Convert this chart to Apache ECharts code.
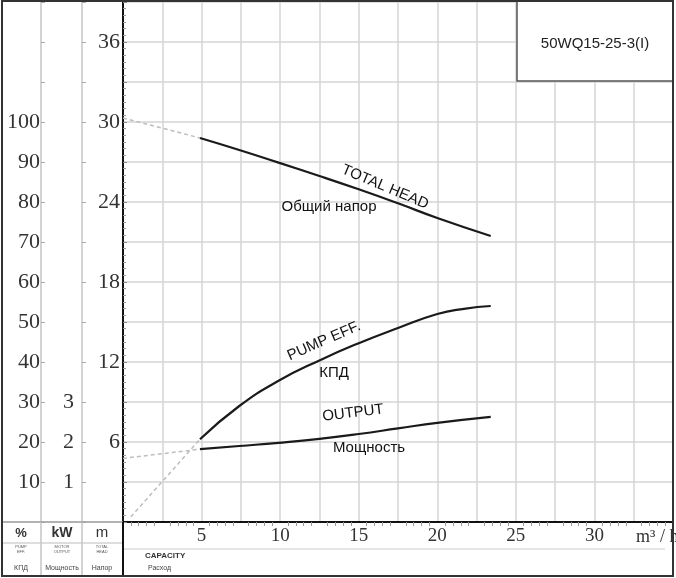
<!DOCTYPE html>
<html>
<head>
<meta charset="utf-8">
<script src="https://cdn.jsdelivr.net/npm/echarts@6/dist/echarts.min.js"></script>
<style>
  html, body { margin: 0; padding: 0; background: #fff; }
  #chart { width: 676px; height: 578px; }
</style>
</head>
<body>
<div id="chart"></div>
<script>
(function () {
    'use strict';

    //////////Datos
    var modelName = '50WQ15-25-3(I)';
    var flowTicks = [5, 10, 15, 20, 25, 30];
    var headTicks = [6, 12, 18, 24, 30, 36];
    var effTicks = [10, 20, 30, 40, 50, 60, 70, 80, 90, 100];
    var kwTicks = [1, 2, 3];

    // curva de altura (m)
    var headFlow = [4.9, 7.4, 9.9, 12.5, 15, 17.5, 20, 23.4];
    var headVal = [28.8, 27.9, 26.95, 25.95, 24.95, 23.9, 22.8, 21.45];
    var headDashFlow = [0, 4.9];
    var headDashVal = [30.3, 28.8];

    // rendimiento bomba (%)
    var effFlow = [4.9, 7.4, 9.9, 12.5, 15, 17.5, 20, 21.7, 23.4];
    var effVal = [20.7, 29.0, 35.3, 40.4, 44.7, 48.5, 52.0, 53.3, 54.0];
    var effDashFlow = [0.5, 4.9];
    var effDashVal = [1.3, 20.7];

    // potencia (kW)
    var powFlow = [4.9, 7.4, 9.9, 12.5, 15, 17.5, 20, 23.4];
    var powVal = [1.82, 1.9, 1.98, 2.08, 2.2, 2.34, 2.48, 2.63];
    var powDashFlow = [0, 4.9];
    var powDashVal = [1.59, 1.82];

    function pairs(xs, ys) {
        return xs.map(function (x, i) { return [x, ys[i]]; });
    }

    var serif = 'Liberation Serif';
    var sans = 'Liberation Sans';
    var gridColor = '#d4d4d4';
    var sideColor = '#c4c4c4';
    var headMax = 39.15;

    var chart = echarts.init(document.getElementById('chart'));

    function curve(data, yIdx, dashed) {
        return {
            type: 'line',
            yAxisIndex: yIdx,
            data: data,
            smooth: 0.5,
            symbol: 'none',
            silent: true,
            lineStyle: dashed
                ? { color: '#bdbdbd', width: 1.5, type: [4, 3] }
                : { color: '#1a1a1a', width: 2.2 }
        };
    }

    function sideAxis(max, interval, offset, ticks, margin) {
        return {
            type: 'value',
            position: 'left',
            offset: offset,
            min: 0,
            max: max,
            interval: interval,
            axisLine: { show: true, lineStyle: { color: sideColor, width: 1.5 } },
            axisTick: { show: true, inside: true, length: 4, lineStyle: { color: '#aaa' } },
            splitLine: { show: false },
            axisLabel: {
                margin: margin,
                fontFamily: serif,
                fontSize: 22,
                color: '#333',
                formatter: function (v) {
                    return ticks.indexOf(Math.round(v * 100) / 100) >= 0 ? String(v) : '';
                }
            }
        };
    }

    var option = {
        animation: false,
        backgroundColor: '#fff',
        grid: { left: 123, right: 3, top: 0, bottom: 56 },
        xAxis: {
            type: 'value',
            min: 0,
            max: 35,
            interval: 2.5,
            axisLine: { lineStyle: { color: '#111', width: 2 } },
            axisTick: { show: false },
            minorTick: { show: true, splitNumber: 5, length: 4, lineStyle: { color: '#999' } },
            splitLine: { show: true, lineStyle: { color: gridColor, width: 1.5 } },
            axisLabel: {
                margin: 5,
                fontFamily: serif,
                fontSize: 19,
                color: '#333',
                formatter: function (v) {
                    return flowTicks.indexOf(v) >= 0 ? String(v) : '';
                }
            }
        },
        yAxis: [
            {
                type: 'value',
                min: 0,
                max: headMax,
                interval: 3,
                axisLine: { show: true, lineStyle: { color: '#111', width: 2 } },
                axisTick: { show: true, inside: true, length: 4, lineStyle: { color: '#888' } },
                minorTick: { show: true, splitNumber: 6, length: 3, lineStyle: { color: '#999' } },
                splitLine: { show: true, lineStyle: { color: gridColor, width: 1.5 } },
                axisLabel: {
                    margin: 3,
                    fontFamily: serif,
                    fontSize: 22,
                    color: '#333',
                    formatter: function (v) {
                        return headTicks.indexOf(v) >= 0 ? String(v) : '';
                    }
                }
            },
            sideAxis(headMax * 10 / 3, 10, 82, effTicks, 1),
            sideAxis(headMax / 3, 1, 41, kwTicks, 8)
        ],
        series: [
            curve(pairs(headDashFlow, headDashVal), 0, true),
            curve(pairs(headFlow, headVal), 0, false),
            curve(pairs(effDashFlow, effDashVal), 1, true),
            curve(pairs(effFlow, effVal), 1, false),
            curve(pairs(powDashFlow, powDashVal), 2, true),
            curve(pairs(powFlow, powVal), 2, false)
        ],
        graphic: [
            // recuadro del modelo
            { type: 'rect', z: 10, shape: { x: 517, y: 0, width: 156, height: 81 },
              style: { fill: '#fff', stroke: '#555', lineWidth: 1.5 } },
            { type: 'text', z: 11, x: 595, y: 44,
              style: { text: modelName, font: '15px ' + sans, fill: '#222', textAlign: 'center', textVerticalAlign: 'middle' } },

            // etiquetas de curvas
            { type: 'text', z: 11, x: 385, y: 187, rotation: -0.40,
              style: { text: 'TOTAL HEAD', font: '15px ' + sans, fill: '#111', textAlign: 'center', textVerticalAlign: 'middle' } },
            { type: 'text', z: 11, x: 329, y: 207,
              style: { text: 'Общий напор', font: '15px ' + sans, fill: '#111', textAlign: 'center', textVerticalAlign: 'middle' } },
            { type: 'text', z: 11, x: 324, y: 341, rotation: 0.41,
              style: { text: 'PUMP EFF.', font: '15px ' + sans, fill: '#111', textAlign: 'center', textVerticalAlign: 'middle' } },
            { type: 'text', z: 11, x: 334, y: 373,
              style: { text: 'КПД', font: '15px ' + sans, fill: '#111', textAlign: 'center', textVerticalAlign: 'middle' } },
            { type: 'text', z: 11, x: 353, y: 413, rotation: 0.12,
              style: { text: 'OUTPUT', font: '15px ' + sans, fill: '#111', textAlign: 'center', textVerticalAlign: 'middle' } },
            { type: 'text', z: 11, x: 369, y: 448,
              style: { text: 'Мощность', font: '15px ' + sans, fill: '#111', textAlign: 'center', textVerticalAlign: 'middle' } },

            // unidad del eje x
            { type: 'text', z: 11, x: 636, y: 537,
              style: { text: 'm³ / h', font: '18px ' + serif, fill: '#333', textAlign: 'left', textVerticalAlign: 'middle' } },

            // tabla inferior
            { type: 'line', z: 9, shape: { x1: 2, y1: 522, x2: 123, y2: 522 }, style: { stroke: '#999', lineWidth: 1.5 } },
            { type: 'line', z: 9, shape: { x1: 2, y1: 543, x2: 123, y2: 543 }, style: { stroke: '#bbb', lineWidth: 1 } },
            { type: 'line', z: 9, shape: { x1: 123, y1: 549, x2: 665, y2: 549 }, style: { stroke: '#ccc', lineWidth: 1 } },
            { type: 'line', z: 9, shape: { x1: 41, y1: 522, x2: 41, y2: 576 }, style: { stroke: sideColor, lineWidth: 1.5 } },
            { type: 'line', z: 9, shape: { x1: 82, y1: 522, x2: 82, y2: 576 }, style: { stroke: sideColor, lineWidth: 1.5 } },
            { type: 'line', z: 9, shape: { x1: 123, y1: 522, x2: 123, y2: 576 }, style: { stroke: '#111', lineWidth: 2 } },

            { type: 'text', z: 11, x: 21, y: 533, style: { text: '%', font: 'bold 13px ' + sans, fill: '#333', textAlign: 'center', textVerticalAlign: 'middle' } },
            { type: 'text', z: 11, x: 62, y: 533, style: { text: 'kW', font: 'bold 14px ' + sans, fill: '#333', textAlign: 'center', textVerticalAlign: 'middle' } },
            { type: 'text', z: 11, x: 102, y: 533, style: { text: 'm', font: '15px ' + sans, fill: '#333', textAlign: 'center', textVerticalAlign: 'middle' } },

            { type: 'text', z: 11, x: 21, y: 549, style: { text: 'PUMP\nEFF.', font: '4px ' + sans, lineHeight: 5, fill: '#555', textAlign: 'center', textVerticalAlign: 'middle' } },
            { type: 'text', z: 11, x: 62, y: 549, style: { text: 'MOTOR\nOUTPUT', font: '4px ' + sans, lineHeight: 5, fill: '#555', textAlign: 'center', textVerticalAlign: 'middle' } },
            { type: 'text', z: 11, x: 102, y: 549, style: { text: 'TOTAL\nHEAD', font: '4px ' + sans, lineHeight: 5, fill: '#555', textAlign: 'center', textVerticalAlign: 'middle' } },

            { type: 'text', z: 11, x: 21, y: 568, style: { text: 'КПД', font: '7px ' + sans, fill: '#444', textAlign: 'center', textVerticalAlign: 'middle' } },
            { type: 'text', z: 11, x: 62, y: 568, style: { text: 'Мощность', font: '7px ' + sans, fill: '#444', textAlign: 'center', textVerticalAlign: 'middle' } },
            { type: 'text', z: 11, x: 102, y: 568, style: { text: 'Напор', font: '7px ' + sans, fill: '#444', textAlign: 'center', textVerticalAlign: 'middle' } },

            { type: 'text', z: 11, x: 145, y: 556, style: { text: 'CAPACITY', font: 'bold 8px ' + sans, fill: '#333', textAlign: 'left', textVerticalAlign: 'middle' } },
            { type: 'text', z: 11, x: 148, y: 568, style: { text: 'Расход', font: '7px ' + sans, fill: '#444', textAlign: 'left', textVerticalAlign: 'middle' } },

            // marco exterior
            { type: 'rect', z: 12, shape: { x: 2, y: 1, width: 671, height: 575 },
              style: { fill: 'none', stroke: '#333', lineWidth: 2 } }
        ]
    };

    chart.setOption(option);
})();
</script>
</body>
</html>
